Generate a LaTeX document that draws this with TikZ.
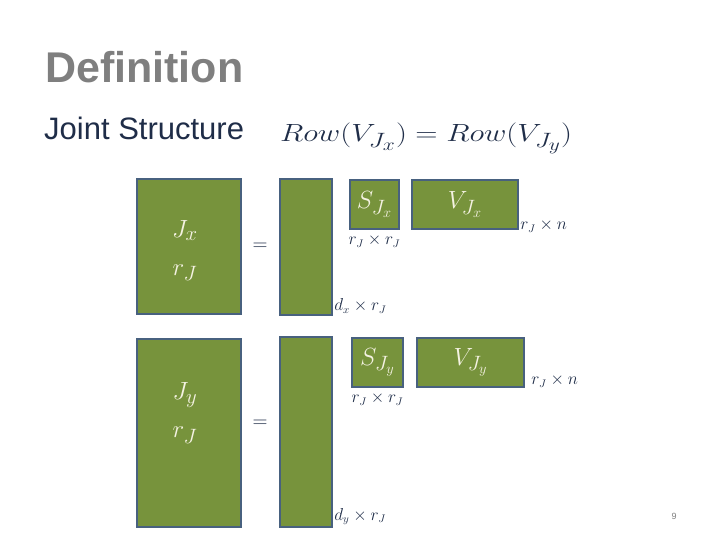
\documentclass[tikz,border=0pt]{standalone}
\usepackage{fontspec}
\setmainfont{Liberation Sans}
\usetikzlibrary{positioning}
\definecolor{matgreen}{HTML}{77933C}
\definecolor{matedge}{HTML}{48617F}
\definecolor{cream}{HTML}{F4F2E2}
\definecolor{navy}{HTML}{1F2D48}
\definecolor{titlegray}{HTML}{7F7F7F}

\begin{document}
\begin{tikzpicture}[
		x=1pt, y=-1pt,
		mat/.style={draw=matedge, fill=matgreen, line width=2.5pt,
			inner sep=0pt, text=cream, align=center,
			font=\fontsize{28}{34}\selectfont},
		mattext/.style={inner sep=0pt, text=cream, align=center,
			font=\fontsize{28}{34}\selectfont},
		dim/.style={inner sep=1pt, text=navy, font=\fontsize{16}{18}\selectfont},
		eqsign/.style={text=navy, font=\fontsize{22}{24}\selectfont}
		]
		\useasboundingbox (0,0) rectangle (720,540);
		
		% Heading
		\node[anchor=base west, inner sep=0pt, text=titlegray,
			font=\fontsize{43}{50}\selectfont\bfseries] (title) at (45,83) {Definition};
		\node[anchor=base west, inner sep=0pt, text=navy,
			font=\fontsize{31}{36}\selectfont] (joint) at (44,140) {Joint Structure};
		\node[anchor=base west, inner sep=0pt, text=navy,
			font=\fontsize{32}{36}\selectfont] (roweq) at (280,142)
			{\scalebox{1.24}[1]{$Row(V_{J_x}) = Row(V_{J_y})$}};
		
		% First factorisation
		\node[mat, minimum width=104, minimum height=135] (jx) at (189,246.5) {};
		\node[mattext] (jxlabel) at ([xshift=-4pt,yshift=-4pt]jx.center) {$J_x$\\[4pt] $r_J$};
		\node[eqsign] (eqx) at (260,247) {$=$};
		\node[mat, minimum width=52, minimum height=136] (ux) at (306,247) {};
		\node[mat, minimum width=49, minimum height=49] (sx) at (374.5,204.5) {$S_{J_x}$};
		\node[mat, minimum width=106, minimum height=49] (vx) at (465,204.5) {$V_{J_x}$};
		\node[dim, below=3pt of sx] (sxdim) {$r_J\times r_J$};
		\node[dim, anchor=south west] (vxdim) at ([yshift=-3pt]vx.south east) {$r_J\times n$};
		\node[dim, anchor=south west] (uxdim) at ([yshift=2pt]ux.south east) {$d_x\times r_J$};
		
		% Second factorisation
		\node[mat, minimum width=104, minimum height=188] (jy) at (189,433) {};
		\node[mattext] (jylabel) at ([xshift=-4pt,yshift=20pt]jy.center) {$J_y$\\[4pt] $r_J$};
		\node[eqsign] (eqy) at (260,424) {$=$};
		\node[mat, minimum width=52, minimum height=190] (uy) at (306,432) {};
		\node[mat, minimum width=51, minimum height=49] (sy) at (377.5,362.5) {$S_{J_y}$};
		\node[mat, minimum width=107, minimum height=49] (vy) at (470.5,362.5) {$V_{J_y}$};
		\node[dim, below=3pt of sy] (sydim) {$r_J\times r_J$};
		\node[dim, anchor=south west] (vydim) at ([xshift=5pt]vy.south east) {$r_J\times n$};
		\node[dim, anchor=south west] (uydim) at ([yshift=2pt]uy.south east) {$d_y\times r_J$};
		
		% Page number
		\node[text=titlegray, font=\fontsize{9}{10}\selectfont] (pagenum) at (674,516) {9};
	\end{tikzpicture}
\end{document}
